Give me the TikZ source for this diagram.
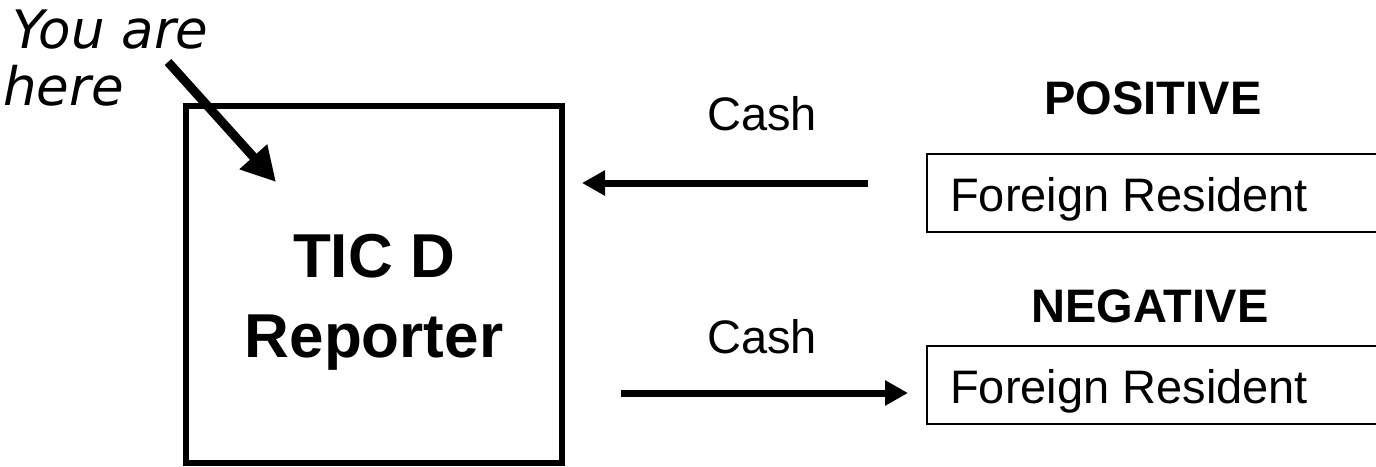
\documentclass[tikz,border=0pt]{standalone}
\usepackage{fontspec}
\setmainfont{Liberation Sans}
\newfontfamily\hereface{DejaVu Sans}
\usetikzlibrary{arrows.meta}
\begin{document}
\begin{tikzpicture}[x=1pt,y=-1pt,
  txt/.style={inner sep=0pt,anchor=base,font=\fontsize{47}{47}\selectfont},
  boldtxt/.style={txt,font=\fontsize{47}{47}\selectfont\bfseries},
  bigbold/.style={inner sep=0pt,anchor=base,font=\fontsize{62}{62}\selectfont\bfseries},
  heretxt/.style={inner sep=0pt,anchor=base west,font=\fontsize{53}{53}\selectfont\hereface\itshape},
  frbox/.style={draw,line width=2.5pt},
  flow/.style={line width=7pt,-{Triangle[length=23pt,width=24pt]}},
  pointer/.style={line width=9pt,-{Triangle[length=34pt,width=35pt]}}]
\useasboundingbox (0,0) rectangle (1376,466);
% main box
\draw[line width=6pt] (186,106) rectangle (562,463);
\node[bigbold] (tic) at (374,277) {TIC D};
\node[bigbold] (rep) at (374,357) {Reporter};
% foreign boxes
\draw[frbox] (927,154) rectangle (1400,232);
\draw[frbox] (927,346) rectangle (1400,424);
\node[txt,anchor=base west] (fr1) at (950,211) {Foreign Resident};
\node[txt,anchor=base west] (fr2) at (950,403) {Foreign Resident};
\node[boldtxt] (pos) at (1153,114) {POSITIVE};
\node[boldtxt] (neg) at (1150,322) {NEGATIVE};
\node[txt] (cash1) at (762,130) {Cash};
\node[txt] (cash2) at (762,353) {Cash};
% you are here
\node[heretxt] (you) at (12,48) {You are};
\node[heretxt] (here) at (3,105) {here};
% arrows
\coordinate (a1s) at (868,183);
\coordinate (a1e) at (582,183);
\coordinate (a2s) at (621,393);
\coordinate (a2e) at (908,393);
\coordinate (ps) at (168,62);
\coordinate (pe) at (276,182);
\draw[flow] (a1s) -- (a1e);
\draw[flow] (a2s) -- (a2e);
\draw[pointer] (ps) -- (pe);
\end{tikzpicture}
\end{document}
